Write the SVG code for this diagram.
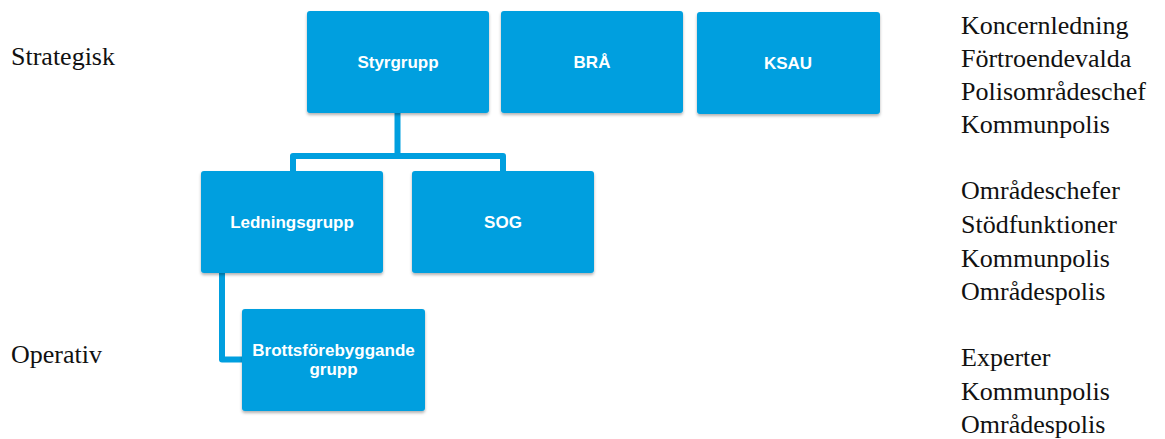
<svg xmlns="http://www.w3.org/2000/svg" width="1165" height="439" viewBox="0 0 1165 439">
<defs>
<filter id="sh" x="-10%" y="-10%" width="120%" height="130%">
<feDropShadow dx="0" dy="2" stdDeviation="1.5" flood-color="#000" flood-opacity="0.3"/>
</filter>
<style>
.box{fill:#009FDF;filter:url(#sh)}
.bt{font-family:"Liberation Sans",Arial,sans-serif;font-weight:bold;font-size:17px;fill:#fff;text-anchor:middle}
.st{font-family:"Liberation Serif","Times New Roman",serif;font-size:26px;fill:#111}
.con{fill:none;stroke:#009FDF;stroke-width:6;stroke-linejoin:round}
</style>
</defs>
<rect width="1165" height="439" fill="#fff"/>
<g id="connectors">
<path class="con" d="M397.5,113 V156 M293,171 V156 H503 V171"/>
<path class="con" d="M222,273 V359.5 H242"/>
</g>
<g id="styrgrupp"><rect class="box" x="307" y="11" width="182" height="102" rx="3"/><text class="bt" x="398" y="68">Styrgrupp</text></g>
<g id="bra"><rect class="box" x="501" y="11" width="182" height="102" rx="3"/><text class="bt" x="592" y="68">BRÅ</text></g>
<g id="ksau"><rect class="box" x="697" y="12" width="183" height="102" rx="3"/><text class="bt" x="788" y="69">KSAU</text></g>
<g id="ledningsgrupp"><rect class="box" x="201" y="171" width="182" height="102" rx="3"/><text class="bt" x="292" y="228">Ledningsgrupp</text></g>
<g id="sog"><rect class="box" x="412" y="171" width="182" height="102" rx="3"/><text class="bt" x="503" y="228">SOG</text></g>
<g id="brottsforebyggande"><rect class="box" x="242" y="309" width="183" height="102" rx="3"/><text class="bt" x="333.5" y="356">Brottsförebyggande</text><text class="bt" x="333.5" y="375">grupp</text></g>
<g id="labels">
<text class="st" x="11" y="65">Strategisk</text>
<text class="st" x="11" y="363">Operativ</text>
<text class="st" x="961" y="34">Koncernledning</text>
<text class="st" x="961" y="67">Förtroendevalda</text>
<text class="st" x="961" y="100">Polisområdeschef</text>
<text class="st" x="961" y="133">Kommunpolis</text>
<text class="st" x="961" y="199">Områdeschefer</text>
<text class="st" x="961" y="233">Stödfunktioner</text>
<text class="st" x="961" y="267">Kommunpolis</text>
<text class="st" x="961" y="300">Områdespolis</text>
<text class="st" x="961" y="366">Experter</text>
<text class="st" x="961" y="400">Kommunpolis</text>
<text class="st" x="961" y="433">Områdespolis</text>
</g>
</svg>
